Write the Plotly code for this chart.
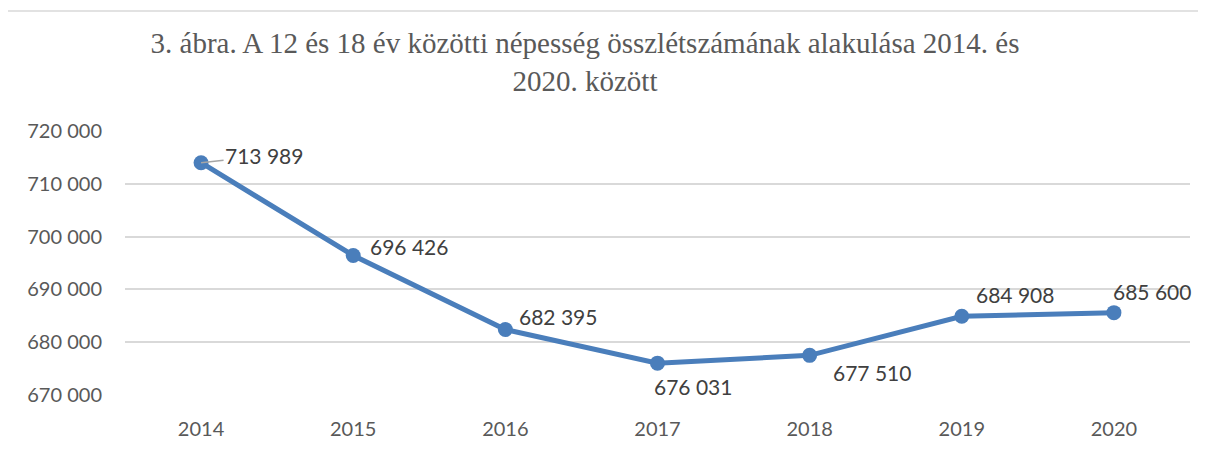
import plotly.graph_objects as go

years = ["2014", "2015", "2016", "2017", "2018", "2019", "2020"]
population = [713989, 696426, 682395, 676031, 677510, 684908, 685600]
label_texts = ["713 989", "696 426", "682 395", "676 031", "677 510", "684 908", "685 600"]

# pixel offsets of each data label relative to its point (left edge, vertical centre)
label_dx = [24, 15, 12, -6, 21, 12, -3]
label_dy = [7, 9, 13, -23, -17, 22, 21]

# page has an 8px body margin, so the figure is drawn 8px smaller
OFF = 8
W, H = 1206 - OFF, 452 - OFF
L, R, T, B = 125 - OFF, 16, 131 - OFF, 55
LINE_COLOR = "#4a7ebb"
LABEL_FONT = "Lato, 'Open Sans', sans-serif"


def fmt_thousands(v):
    return f"{v:,}".replace(",", " ")


tick_vals = [670000, 680000, 690000, 700000, 710000, 720000]

fig = go.Figure()
fig.add_trace(
    go.Scatter(
        x=years,
        y=population,
        mode="lines+markers",
        line={"color": LINE_COLOR, "width": 5},
        marker={"color": LINE_COLOR, "size": 15},
        hovertemplate="%{x}: %{y}<extra></extra>",
    )
)

for i, (val, txt) in enumerate(zip(population, label_texts)):
    if i == 0:
        # first label has a short grey leader line
        fig.add_annotation(
            x=i, y=val, text=txt, showarrow=True, arrowhead=0, arrowwidth=1.3,
            arrowcolor="#a6a6a6", ax=label_dx[i] + 39, ay=-label_dy[i],
            standoff=0, startstandoff=0,
            font={"family": LABEL_FONT, "size": 21, "color": "#404040"},
        )
    else:
        fig.add_annotation(
            x=i, y=val, text=txt, showarrow=False, xanchor="left", yanchor="middle",
            xshift=label_dx[i], yshift=label_dy[i],
            font={"family": LABEL_FONT, "size": 21, "color": "#404040"},
        )

# outer chart frame
pw, ph = W - L - R, H - T - B
fig.add_shape(
    type="rect", xref="paper", yref="paper",
    x0=(7 - OFF - L) / pw, x1=(W + 5 - L) / pw,
    y0=(H - B - (H + 10)) / ph, y1=(H - B - (10 - OFF)) / ph,
    line={"color": "#d9d9d9", "width": 1.5}, fillcolor="rgba(0,0,0,0)", layer="below",
)

fig.update_layout(
    width=W,
    height=H,
    margin={"l": L, "r": R, "t": T, "b": B},
    paper_bgcolor="white",
    plot_bgcolor="white",
    showlegend=False,
    title={
        "text": "3. ábra. A 12 és 18 év közötti népesség összlétszámának alakulása 2014. és<br>2020. között",
        "xref": "container", "x": (585 - OFF) / W, "xanchor": "center",
        "yref": "container", "y": 1 - 45 / H, "yanchor": "top",
        "font": {"family": "'Liberation Serif', 'Times New Roman', serif", "size": 29, "color": "#595959"},
    },
)
fig.update_xaxes(
    type="category",
    range=[-0.5, 6.5],
    showgrid=False,
    showline=False,
    ticks="",
    ticklabelstandoff=20,
    tickfont={"family": LABEL_FONT, "size": 20, "color": "#595959"},
)
fig.update_yaxes(
    range=[670000, 720000],
    tickvals=tick_vals,
    ticktext=[fmt_thousands(v) for v in tick_vals],
    showgrid=True,
    gridcolor="#d9d9d9",
    gridwidth=1.5,
    zeroline=False,
    showline=False,
    ticks="",
    ticklabelstandoff=22,
    tickfont={"family": LABEL_FONT, "size": 20, "color": "#595959"},
)

fig.write_html("out.html")
